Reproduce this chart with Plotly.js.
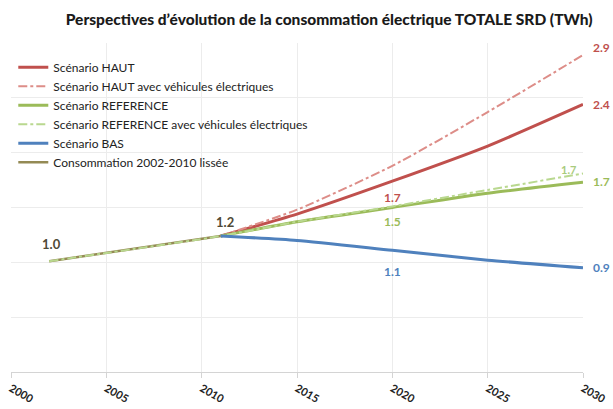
<!DOCTYPE html>
<html><head><meta charset="utf-8">
<script src="https://cdn.plot.ly/plotly-3.0.1.min.js"></script>
<style>html,body{margin:0;padding:0;background:#fff}#chart{width:613px;height:409px}</style>
</head><body><div id="chart"></div>
<script>
// Data (TWh)
const histYears = [2002, 2011];
const histValues = [1.01, 1.24];

const scenarioYears = [2011, 2015, 2020, 2025, 2030];
const hautValues = [1.24, 1.44, 1.74, 2.06, 2.44];
const hautVEValues = [1.24, 1.48, 1.88, 2.37, 2.89];
const refValues = [1.24, 1.37, 1.50, 1.63, 1.73];
const refVEYears = [2002, 2011, 2015, 2020, 2025, 2030];
const refVEValues = [1.01, 1.24, 1.37, 1.51, 1.66, 1.81];
const basValues = [1.24, 1.20, 1.11, 1.02, 0.95];

const seriesNames = [
  "Scénario HAUT",
  "Scénario HAUT avec véhicules électriques",
  "Scénario REFERENCE",
  "Scénario REFERENCE avec véhicules électriques",
  "Scénario BAS",
  "Consommation 2002-2010 lissée"
];

const xTicks = [2000, 2005, 2010, 2015, 2020, 2025, 2030];

const cRed = "#c0504d", cRedL = "#dd8d88", cGreen = "#9bbb59", cGreenL = "#b9d88f",
      cBlue = "#4f81bd", cKhaki = "#948a54";

const traces = [
  {x: scenarioYears, y: hautValues, name: seriesNames[0], mode: "lines",
   line: {color: cRed, width: 3, shape: "spline", smoothing: 0.6}},
  {x: scenarioYears, y: hautVEValues, name: seriesNames[1], mode: "lines",
   line: {color: cRedL, width: 2, dash: "dashdot", shape: "spline", smoothing: 0.6}},
  {x: scenarioYears, y: refValues, name: seriesNames[2], mode: "lines",
   line: {color: cGreen, width: 3, shape: "spline", smoothing: 0.6}},
  {x: histYears, y: histValues, name: seriesNames[5], mode: "lines", showlegend: false,
   line: {color: cKhaki, width: 2.5}},
  {x: refVEYears, y: refVEValues, name: seriesNames[3], mode: "lines",
   line: {color: cGreenL, width: 2, dash: "dashdot", shape: "spline", smoothing: 0.6}},
  {x: scenarioYears, y: basValues, name: seriesNames[4], mode: "lines",
   line: {color: cBlue, width: 3, shape: "spline", smoothing: 0.6}},
  {x: [null], y: [null], name: seriesNames[5], mode: "lines",
   line: {color: cKhaki, width: 2.5}}
];

function lab(x, y, text, color, xs, ys, anchor, size) {
  return {x: x, y: y, xref: "x", yref: "y", text: text, showarrow: false,
    xanchor: anchor || "center", yanchor: "middle", xshift: xs, yshift: ys,
    font: {family: "Lato, sans-serif", size: size || 12, color: color, weight: "bold"}};
}

const annotations = [
  lab(histYears[0], histValues[0], histValues[0].toFixed(1), "#4f4a36", 2, 17, "center", 13),
  lab(scenarioYears[0], hautValues[0], "1.2", "#4f4a36", 4, 14, "center", 13),
  lab(scenarioYears[2], hautValues[2], hautValues[2].toFixed(1), cRed, 0, -16),
  lab(scenarioYears[2], refValues[2], refValues[2].toFixed(1), cGreen, 0, -14),
  lab(scenarioYears[2], basValues[2], basValues[2].toFixed(1), cBlue, 0, -21),
  lab(scenarioYears[4], hautVEValues[4], hautVEValues[4].toFixed(1), cRed, 8, 8, "left"),
  lab(scenarioYears[4], hautValues[4], hautValues[4].toFixed(1), cRed, 8, 0, "left"),
  lab(scenarioYears[4], refVEValues[4], refVEValues[4].toFixed(1), "#a9cb7d", -15, 20, "center", 11),
  lab(scenarioYears[4], refValues[4], refValues[4].toFixed(1), cGreen, 8, 1, "left"),
  lab(scenarioYears[4], basValues[4], basValues[4].toFixed(1), cBlue, 8, 0, "left")
];

const layout = {
  width: 613, height: 409,
  margin: {l: 11, r: 30, t: 43, b: 37},
  paper_bgcolor: "#fff", plot_bgcolor: "#fff",
  font: {family: "Lato, sans-serif", color: "#222"},
  title: {text: "Perspectives d’évolution de la consommation électrique TOTALE SRD (TWh)",
    x: 0.537, xref: "container", xanchor: "center", y: 0.952, yref: "container", yanchor: "middle",
    font: {family: "Lato, sans-serif", size: 15.5, color: "#1a1a1a", weight: 900}},
  xaxis: {range: [2000, 2030], tickvals: xTicks, ticktext: xTicks.map(String),
    tickangle: 30, showgrid: true, gridcolor: "#ececec", gridwidth: 1,
    showline: true, linecolor: "#d4d4d4", linewidth: 1, ticks: "outside", ticklen: 5,
    tickcolor: "#d4d4d4", zeroline: false,
    tickfont: {family: "Lato, sans-serif", size: 11, color: "#222", weight: "bold"}},
  yaxis: {range: [0, 3], dtick: 0.5, showticklabels: false, showgrid: true,
    gridcolor: "#ececec", zeroline: false, showline: false, ticks: ""},
  showlegend: true,
  legend: {x: 0.004, y: 0.97, xanchor: "left", yanchor: "top", bgcolor: "rgba(255,255,255,0)",
    font: {family: "Lato, sans-serif", size: 12, color: "#222"}, traceorder: "normal",
    itemwidth: 30},
  annotations: annotations
};

Plotly.newPlot("chart", traces, layout, {displayModeBar: false, staticPlot: true});
</script></body></html>
